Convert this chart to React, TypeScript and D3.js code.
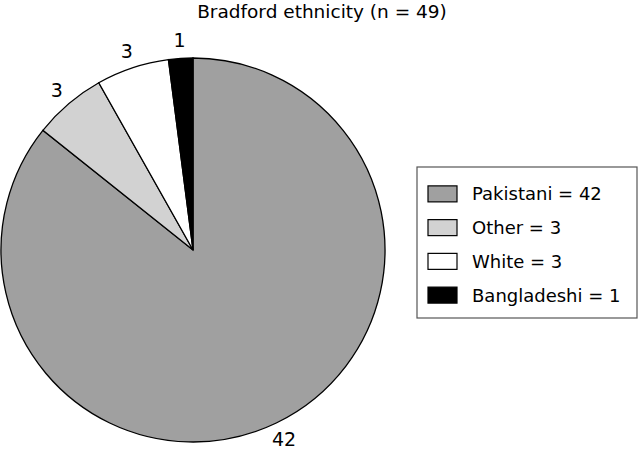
import * as d3 from "d3";
import React from "react";

const groups = ["Pakistani", "Other", "White", "Bangladeshi"];
const counts = [42, 3, 3, 1];
const fills = ["#a0a0a0", "#d2d2d2", "#ffffff", "#000000"];
const title = "Bradford ethnicity (n = 49)";

const App = () => {
    const width = 640, height = 451;
    const cx = 193, cy = 250, radius = 192, labelRadius = 210;

    const pie = d3.pie<number>().sort(null).value(d => d);
    const arcs = pie(counts);
    const arc = d3.arc<d3.PieArcDatum<number>>().innerRadius(0).outerRadius(radius);
    const labelArc = d3.arc<d3.PieArcDatum<number>>().innerRadius(labelRadius).outerRadius(labelRadius);

    const legendY = d3.scaleBand().domain(groups).range([177, 312]);

    return (
        <svg width={width} height={height} style={{position: "absolute", left: 0, top: 0}}
             fontFamily="'DejaVu Sans', sans-serif">
            <rect width={width} height={height} fill="#fff"/>
            <text x={322} y={18} textAnchor="middle" fontSize={18.5}>{title}</text>
            <g transform={"translate(" + cx + "," + cy + ")"}>
                {arcs.map((a, i) => (
                    <path key={groups[i]} d={arc(a) || ""} fill={fills[i]} stroke="#000" strokeWidth={1.3}/>
                ))}
                {arcs.map((a, i) => {
                    const [x, y] = labelArc.centroid(a);
                    return (
                        <text key={"l" + i} x={x} y={y} textAnchor="middle" dominantBaseline="central" fontSize={19}>
                            {counts[i]}
                        </text>
                    );
                })}
            </g>
            <rect x={417} y={167} width={220} height={151} fill="#fff" stroke="#555" strokeWidth={1.2}/>
            {groups.map((g, i) => {
                const y = (legendY(g) || 0) + legendY.bandwidth() / 2;
                return (
                    <g key={"k" + g}>
                        <rect x={428} y={y - 8} width={29} height={16} fill={fills[i]} stroke="#000" strokeWidth={1.2}/>
                        <text x={472} y={y} dominantBaseline="central" fontSize={18}>{g + " = " + counts[i]}</text>
                    </g>
                );
            })}
        </svg>
    );
};

export default App;
